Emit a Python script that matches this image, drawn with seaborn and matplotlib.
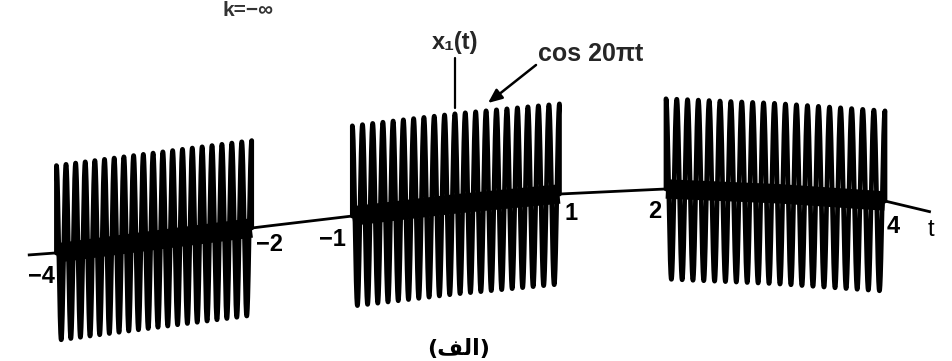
import numpy as np
import pandas as pd
import matplotlib
matplotlib.use("Agg")
import matplotlib.pyplot as plt
import seaborn as sns

# ---------------- data ----------------
burst_starts = [-4, -1, 2]
burst_ends = [-2, 1, 4]
burst_amps = [0.95, 0.98, 0.98]
carrier_freq = 10          # cos 20πt  -> 10 cycles per unit of t
# level of the (slightly skewed, scanned) t axis at several t values
base_t = [-4.3, -4, -2, -1, 0, 1, 2, 3, 4, 4.41]
base_level = [1.152, 1.174, 1.446, 1.576, 1.707, 1.815, 1.870, 1.821, 1.739, 1.620]
tick_values = [-4, -2, -1, 1, 2, 4]
tick_labels = ["\u22124", "\u22122", "\u22121", "1", "2", "4"]
signal_label = "x\u2081(t)"
carrier_label = "cos 20\u03c0t"
axis_label = "t"
caption = "(" + "\uFED2\uFEDF\uFE8D" + ")"   # (الف) in visual order
top_fragment = "k=\u2212\u221e"

# ---------------- style ----------------
W, H, DPI = 952, 361, 100
tick_offsets = [(-15, -24), (18, -17), (-20, -23), (12, -19), (-11, -23), (8, -25)]
K = 0.00954  # slight horizontal stretch of the scan

sns.set_theme(style="white")
plt.rcParams["font.family"] = ["Liberation Sans", "DejaVu Sans"]

fig = plt.figure(figsize=(W / DPI, H / DPI), dpi=DPI)
ax = fig.add_axes([0, 0, 1, 1])
ax.set_axis_off()

def fwd(t):
    t = np.asarray(t, dtype=float)
    return t + K * t * t

def inv(s):
    s = np.asarray(s, dtype=float)
    d = np.clip(1 + 4 * K * s, 1e-9, None)
    return (-1 + np.sqrt(d)) / (2 * K)

def base(t):
    return np.interp(t, base_t, base_level)

# signal table
frames = []
for i, (a, b, amp) in enumerate(zip(burst_starts, burst_ends, burst_amps)):
    tt = np.linspace(a, b, 6000)
    yy = base(tt) + amp * np.cos(2 * np.pi * carrier_freq * tt)
    tt = np.r_[a, tt, b]
    yy = np.r_[base(a), yy, base(b)]
    frames.append(pd.DataFrame({"t": tt, "x1": yy, "burst": i}))
df = pd.concat(frames, ignore_index=True)

# t axis
ta = np.linspace(base_t[0], base_t[-1], 800)
ax.plot(ta, base(ta), color="black", lw=2.0, solid_capstyle="butt")

# dark band along the axis inside each burst
for a, b in zip(burst_starts, burst_ends):
    tb = np.linspace(a, b, 200)
    ax.plot(tb, base(tb), color="black", lw=14, solid_capstyle="butt")

sns.lineplot(data=df, x="t", y="x1", units="burst", estimator=None, sort=False,
             color="black", lw=3.4, ax=ax, legend=False)
ax.set_axis_off()

ax.set_xscale("function", functions=(fwd, inv))
s_left = (0 - 454.9) / 103.57
s_right = (W - 454.9) / 103.57
ax.set_xlim(float(inv(s_left)), float(inv(s_right)))
ax.set_ylim(0, H / 92)

# tick labels along the axis
for v, lab, (dx, dy) in zip(tick_values, tick_labels, tick_offsets):
    ax.annotate(lab, xy=(v, float(base(v))), xytext=(dx, dy),
                textcoords="offset pixels", ha="center", va="center",
                fontsize=17, fontweight="bold", color="black")

def fp(x, y):
    return (x, H - y)

ax.annotate(axis_label, xy=fp(931, 230), xycoords="figure pixels",
            ha="center", va="center", fontsize=17, color="black")

# x1(t) label with leader line
ax.annotate(signal_label, xy=fp(455, 42), xycoords="figure pixels",
            ha="center", va="center", fontsize=17, fontweight="bold")
ax.annotate("", xy=fp(455, 108), xytext=fp(455, 58),
            xycoords="figure pixels", textcoords="figure pixels",
            arrowprops=dict(arrowstyle="-", lw=1.6, color="black",
                            shrinkA=0, shrinkB=0))

# cos 20πt label with arrow
ax.annotate(carrier_label, xy=fp(591, 54), xycoords="figure pixels",
            ha="center", va="center", fontsize=18, fontweight="bold")
ax.annotate("", xy=fp(488, 103), xytext=fp(536, 65),
            xycoords="figure pixels", textcoords="figure pixels",
            arrowprops=dict(arrowstyle="-|>,head_length=0.7,head_width=0.3",
                            lw=1.8, color="black", shrinkA=0, shrinkB=0))

# caption and fragment at the top
ax.annotate(caption, xy=fp(459, 349), xycoords="figure pixels",
            ha="center", va="center", fontsize=16, color="black",
            fontweight="bold", family=["DejaVu Sans"])
ax.annotate(top_fragment, xy=fp(248, 1), xycoords="figure pixels",
            ha="center", va="top", fontsize=15, color="#333333",
            fontweight="bold")

fig.savefig("out.png", dpi=DPI)
